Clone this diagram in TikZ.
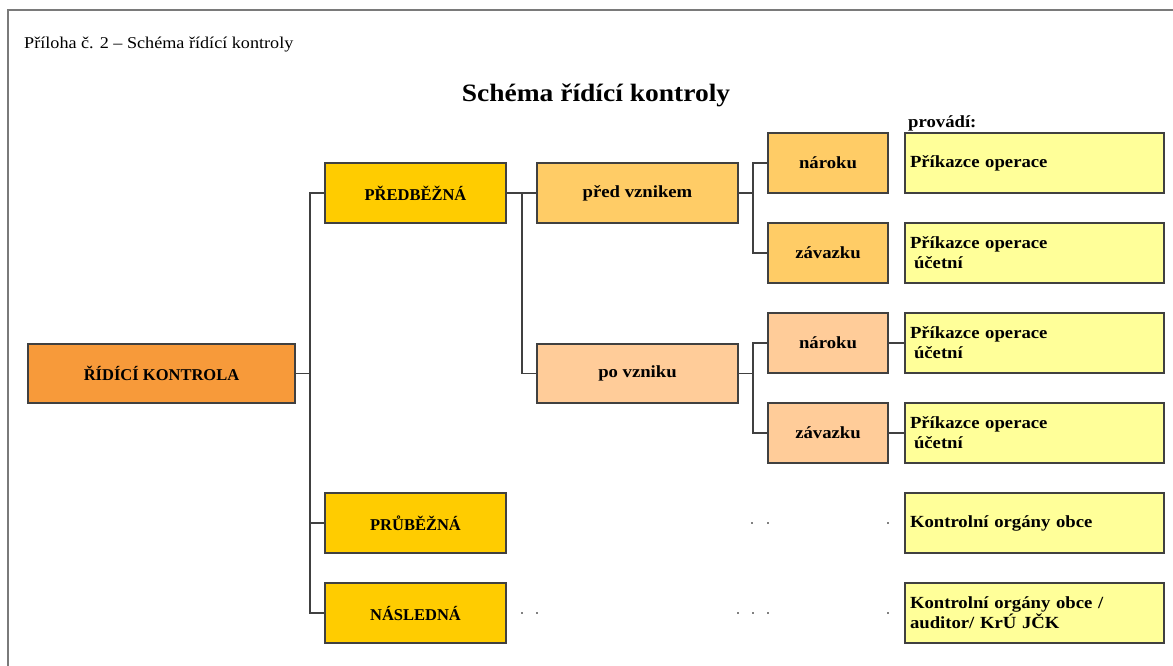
\documentclass[tikz,border=0pt]{standalone}
\usepackage{fontspec}
\setmainfont{Liberation Serif}
\newfontfamily\widefont[FakeStretch=1.1]{Liberation Serif}
\definecolor{cOrange}{HTML}{F79A3A}
\definecolor{cGold}{HTML}{FFCC00}
\definecolor{cLight}{HTML}{FFCC66}
\definecolor{cPeach}{HTML}{FFCC99}
\definecolor{cYellow}{HTML}{FFFF99}
\definecolor{cLine}{HTML}{404040}
\definecolor{cFrame}{HTML}{7A7A7A}
\tikzset{
  box/.style={draw=cLine, line width=1.4pt, rectangle, inner sep=0pt, align=center,
    font=\fontsize{16.5}{20}\selectfont\bfseries},
  capsbox/.style={box},
  lowbox/.style={box, font=\widefont\fontsize{17}{20}\selectfont\bfseries},
  kbox/.style={lowbox, minimum width=120pt, minimum height=60pt},
  ybox/.style={draw=cLine, line width=1.4pt, rectangle, fill=cYellow,
    minimum width=259pt, minimum height=60pt, text width=249pt, inner xsep=5pt,
    align=left, font=\widefont\fontsize{17}{20}\selectfont\bfseries},
  conn/.style={draw=cLine, line width=1.4pt},
  speck/.style={fill=black, circle, inner sep=0pt, minimum size=1.6pt}
}
\begin{document}
\begin{tikzpicture}[x=1pt, y=-1pt]
\useasboundingbox (0,0) rectangle (1173,666);
% frame
\draw[cFrame, line width=2pt] (8,666) -- (8,10) -- (1173,10);
% headings
\node[anchor=west, inner sep=0pt, font=\widefont\fontsize{16.5}{18}\selectfont] (hdr) at (24,45) {Příloha č. 2 – Schéma řídící kontroly};
\node[inner sep=0pt, font=\widefont\fontsize{25}{28}\selectfont\bfseries] (title) at (596,95) {Schéma řídící kontroly};
\node[anchor=west, inner sep=0pt, font=\widefont\fontsize{17}{20}\selectfont\bfseries] (prov) at (908,123) {provádí:};
% level boxes
\node[capsbox, fill=cOrange, minimum width=267pt, minimum height=59pt] (rk) at (161.5,373.5) {ŘÍDÍCÍ KONTROLA};
\node[capsbox, fill=cGold, minimum width=181pt, minimum height=60pt] (pred) at (415.5,193) {PŘEDBĚŽNÁ};
\node[capsbox, fill=cGold, minimum width=181pt, minimum height=60pt] (prub) at (415.5,523) {PRŮBĚŽNÁ};
\node[capsbox, fill=cGold, minimum width=181pt, minimum height=60pt] (nasl) at (415.5,613) {NÁSLEDNÁ};
\node[lowbox, fill=cLight, minimum width=201pt, minimum height=60pt] (pv) at (637.5,193) {před vznikem};
\node[lowbox, fill=cPeach, minimum width=201pt, minimum height=59pt] (pov) at (637.5,373.5) {po vzniku};
\node[kbox, fill=cLight] (n1) at (828,163) {nároku};
\node[kbox, fill=cLight] (z1) at (828,253) {závazku};
\node[kbox, fill=cPeach] (n2) at (828,343) {nároku};
\node[kbox, fill=cPeach] (z2) at (828,433) {závazku};
% who performs
\node[ybox] (y1) at (1034.5,163) {Příkazce operace};
\node[ybox] (y2) at (1034.5,253) {Příkazce operace\\\hspace*{4pt}účetní};
\node[ybox] (y3) at (1034.5,343) {Příkazce operace\\\hspace*{4pt}účetní};
\node[ybox] (y4) at (1034.5,433) {Příkazce operace\\\hspace*{4pt}účetní};
\node[ybox] (y5) at (1034.5,523) {Kontrolní orgány obce};
\node[ybox] (y6) at (1034.5,613) {Kontrolní orgány obce /\\auditor/ KrÚ JČK};
% junctions
\coordinate (j1) at (310,0);
\coordinate (j2) at (522,0);
\coordinate (j3) at (753,0);
% connectors
\draw[conn] (rk.east) -- (rk.east -| j1);
\draw[conn] (pred.west) -- (pred.west -| j1) -- (nasl.west -| j1) -- (nasl.west);
\draw[conn] (prub.west) -- (prub.west -| j1);
\draw[conn] (pred.east) -- (pred.east -| j2);
\draw[conn] (pv.west) -- (pv.west -| j2) -- (pov.west -| j2) -- (pov.west);
\draw[conn] (pv.east) -- (pv.east -| j3);
\draw[conn] (n1.west) -- (n1.west -| j3) -- (z1.west -| j3) -- (z1.west);
\draw[conn] (pov.east) -- (pov.east -| j3);
\draw[conn] (n2.west) -- (n2.west -| j3) -- (z2.west -| j3) -- (z2.west);
\draw[conn] (n2.east) -- (y3.west);
\draw[conn] (z2.east) -- (y4.west);
% stray specks
\foreach \i/\px/\py in {a/752/523, b/768/523, c/888/523, d/522/613, e/537/613, f/738/613, g/753/613, h/768/613, k/888/613}
  \node[speck] (s\i) at (\px,\py) {};
\end{tikzpicture}
\end{document}
